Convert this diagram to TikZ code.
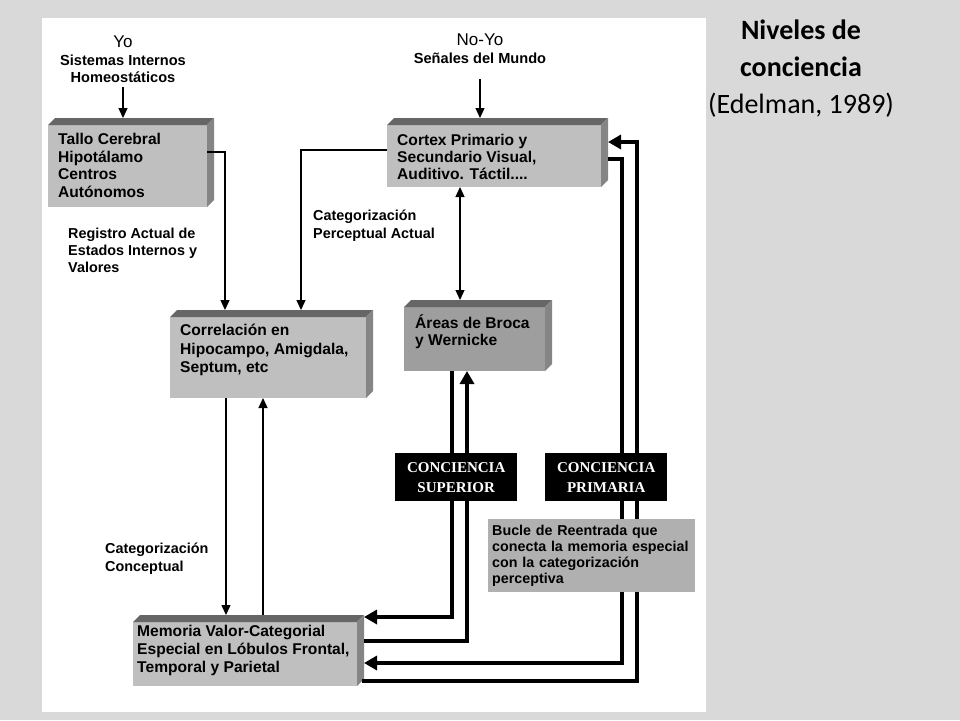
\documentclass[tikz,border=0pt]{standalone}
\usepackage{fontspec}
\setmainfont{Liberation Sans}
\newfontfamily\serifface{Liberation Serif}
\newfontfamily\titleface{Carlito}
\usetikzlibrary{arrows.meta,calc}

\definecolor{bg}{gray}{0.85}
\definecolor{front}{gray}{0.75}
\definecolor{frontdark}{gray}{0.62}
\definecolor{topf}{gray}{0.40}
\definecolor{sidef}{gray}{0.52}
\definecolor{bucfill}{gray}{0.69}

\tikzset{
  box/.style={draw=none, fill=front, anchor=north west, inner sep=0pt, outer sep=0pt},
  boxtxt/.style={anchor=north west, inner sep=0pt, align=left, font=\bfseries\fontsize{15.6}{#1}\selectfont},
  lbl/.style={anchor=north west, inner sep=0pt, align=left, font=\bfseries\fontsize{14.4}{#1}\selectfont},
  thinarr/.style={line width=1.3pt, -{Triangle[width=9pt,length=10pt]}},
  thinboth/.style={line width=1.3pt, {Triangle[width=9pt,length=10pt]}-{Triangle[width=9pt,length=10pt]}},
  thickarr/.style={line width=4pt, -{Triangle[width=14pt,length=13pt]}},
  blackbox/.style={fill=black, anchor=north west, inner sep=0pt, minimum width=122pt, minimum height=48pt,
    text=white, align=center, font=\serifface\bfseries\fontsize{15}{20}\selectfont},
}

\newcommand\boxfaces[1]{%
  \fill[topf] (#1.north west) -- ++(7,-7) -- ($(#1.north east)+(7,-7)$) -- (#1.north east) -- cycle;
  \fill[sidef] (#1.north east) -- ++(7,-7) -- ($(#1.south east)+(7,-7)$) -- (#1.south east) -- cycle;}

\begin{document}
\begin{tikzpicture}[x=1pt,y=-1pt]
\useasboundingbox (0,0) rectangle (960,720);
\fill[bg] (0,0) rectangle (960,720);
\fill[white] (42,18) rectangle (706,712);

% title
\node[anchor=north, inner sep=0pt, align=center, font=\titleface\fontsize{28}{37}\selectfont] (title) at (801,20)
  {\textbf{Niveles de}\\\textbf{conciencia}\\(Edelman, 1989)};

% boxes
\node[box, minimum width=159pt, minimum height=82pt] (tallo) at (48,125) {};
\boxfaces{tallo}
\node[box, minimum width=214pt, minimum height=62pt] (cortex) at (387,125) {};
\boxfaces{cortex}
\node[box, minimum width=196pt, minimum height=81pt] (correl) at (170,317) {};
\boxfaces{correl}
\node[box, fill=frontdark, minimum width=141pt, minimum height=64pt] (broca) at (404,307) {};
\boxfaces{broca}
\node[box, minimum width=224pt, minimum height=64pt] (memoria) at (133,622) {};
\boxfaces{memoria}

% box texts
\node[boxtxt=17.7] (tallot) at (58,133) {Tallo Cerebral\\Hipotálamo\\Centros\\Autónomos};
\node[boxtxt=17] (cortext) at (397,134) {Cortex Primario y\\Secundario Visual,\\Auditivo. Táctil....};
\node[boxtxt=18.5] (correlt) at (180,324) {Correlación en\\Hipocampo, Amigdala,\\Septum, etc};
\node[boxtxt=17] (brocat) at (415,314) {Áreas de Broca\\y Wernicke};
\node[boxtxt=18] (memoriat) at (137,625) {Memoria Valor-Categorial\\Especial en Lóbulos Frontal,\\Temporal y Parietal};

% free labels
\node[anchor=north, inner sep=0pt, align=center, font=\bfseries\fontsize{14.6}{17.5}\selectfont] (yo) at (123,36)
  {{\mdseries\fontsize{17}{17.5}\selectfont Yo}\\Sistemas Internos\\Homeostáticos};
\node[anchor=north, inner sep=0pt, align=center, font=\bfseries\fontsize{14.6}{17.5}\selectfont] (noyo) at (480,34)
  {{\mdseries\fontsize{17}{17.5}\selectfont No-Yo}\\Señales del Mundo};
\node[lbl=16.7] (reg) at (68,228) {Registro Actual de\\Estados Internos y\\Valores};
\node[lbl=17.5] (catper) at (313,210) {Categorización\\Perceptual Actual};
\node[lbl=17.5] (catcon) at (105,543) {Categorización\\Conceptual};

% coordinates
\coordinate (y87) at (0,87);
\coordinate (y79) at (0,79);
\coordinate (tallotop) at ($(tallo.north)+(0,-7)$);
\coordinate (cortextop) at ($(cortex.north)+(0,-7)$);
\coordinate (t1) at ($(tallo.north east)+(0,27)$);
\coordinate (ct1) at ($(correl.north west)+(55,-7)$);
\coordinate (cx1) at ($(cortex.north west)+(0,25)$);
\coordinate (ct2) at ($(correl.north west)+(131,-7)$);
\coordinate (cb) at ($(cortex.south west)+(73,0)$);
\coordinate (brocatop) at ($(broca.north)+(0,-7)$);
\coordinate (cm1) at ($(correl.south west)+(56,0)$);
\coordinate (cm2) at ($(correl.south west)+(93,0)$);
\coordinate (memtop) at ($(memoria.north)+(0,-7)$);
\coordinate (b1) at ($(broca.south west)+(48,0)$);
\coordinate (b2) at ($(broca.south west)+(63,0)$);
\coordinate (m1) at ($(memoria.north east)+(7,-5)$);
\coordinate (m2) at ($(memoria.north east)+(7,19)$);
\coordinate (m3) at ($(memoria.north east)+(7,41)$);
\coordinate (m4) at ($(memoria.north east)+(5,59)$);
\coordinate (c1) at ($(cortex.north east)+(7,34)$);
\coordinate (c2) at ($(cortex.north east)+(7,17)$);
\coordinate (r1) at (622,0);
\coordinate (r2) at (637,0);

% thin connectors
\draw[thinarr] (yo.south |- y87) -- (yo.south |- tallotop);
\draw[thinarr] (noyo.south |- y79) -- (noyo.south |- cortextop);
\draw[thinarr] (t1) -| (ct1);
\draw[thinarr] (cx1) -| (ct2);
\draw[thinboth] (cb) -- (cb |- brocatop);
\draw[thinarr] (cm1) -- (cm1 |- memtop);
\draw[thinarr] (cm2 |- memtop) -- (cm2);

% thick re-entry loops
\draw[thickarr] (b1) |- (m1);
\draw[thickarr] (m2) -| (b2);
\draw[thickarr] (c1) -- (c1 -| r1) -- (r1 |- m3) -- (m3);
\draw[thickarr] (m4) -- (m4 -| r2) -- (r2 |- c2) -- (c2);

% boxes over the loops
\node[blackbox] (sup) at (395,453) {CONCIENCIA\\SUPERIOR};
\node[blackbox] (prim) at (545,453) {CONCIENCIA\\PRIMARIA};
\node[fill=bucfill, anchor=north west, minimum width=207pt, minimum height=73pt, text width=199pt,
      inner xsep=4pt, inner ysep=0pt, align=left, font=\bfseries\fontsize{14.3}{16}\selectfont] (bucle) at (488,519)
  {Bucle de Reentrada que\\conecta la memoria especial\\con la categorización\\perceptiva};
\end{tikzpicture}
\end{document}
